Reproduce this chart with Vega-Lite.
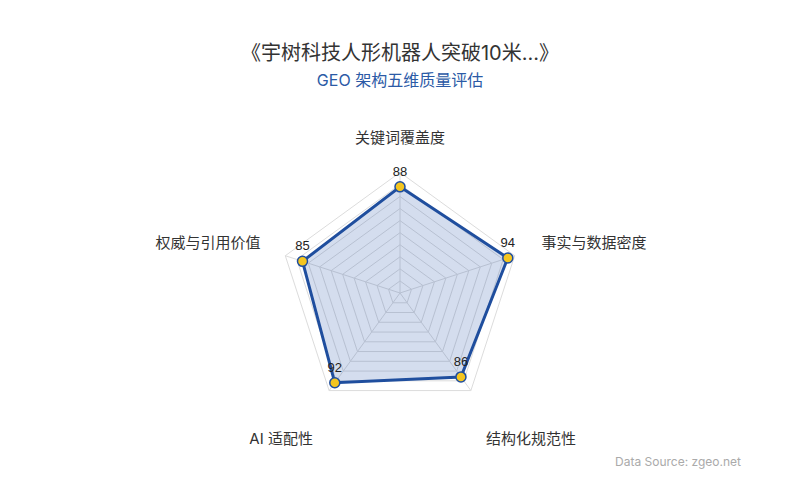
{
  "$schema": "https://vega.github.io/schema/vega-lite/v6.json",
  "width": 800,
  "height": 390,
  "autosize": {"type": "none"},
  "padding": {"top": 110, "left": 0, "right": 0, "bottom": 0},
  "background": "white",
  "title": {
    "text": "《宇树科技人形机器人突破10米...》",
    "subtitle": "GEO 架构五维质量评估",
    "anchor": "middle",
    "font": "Inter, Noto Sans CJK SC",
    "fontSize": 20,
    "fontWeight": "normal",
    "color": "#333333",
    "subtitleFont": "Inter, Noto Sans CJK SC",
    "subtitleFontSize": 16,
    "subtitleColor": "#2b5aa6",
    "subtitlePadding": 9,
    "offset": 21
  },
  "datasets": {
    "scores": [
      {"i": 0, "dim": "关键词覆盖度", "score": 88},
      {"i": 1, "dim": "事实与数据密度", "score": 94},
      {"i": 2, "dim": "结构化规范性", "score": 86},
      {"i": 3, "dim": "AI 适配性", "score": 92},
      {"i": 4, "dim": "权威与引用价值", "score": 85}
    ],
    "rings": [
      {"level": 10, "i": [0, 1, 2, 3, 4]},
      {"level": 20, "i": [0, 1, 2, 3, 4]},
      {"level": 30, "i": [0, 1, 2, 3, 4]},
      {"level": 40, "i": [0, 1, 2, 3, 4]},
      {"level": 50, "i": [0, 1, 2, 3, 4]},
      {"level": 60, "i": [0, 1, 2, 3, 4]},
      {"level": 70, "i": [0, 1, 2, 3, 4]},
      {"level": 80, "i": [0, 1, 2, 3, 4]},
      {"level": 90, "i": [0, 1, 2, 3, 4]},
      {"level": 100, "i": [0, 1, 2, 3, 4]}
    ],
    "spokes": [
      {"i": 0, "level": [0, 100]},
      {"i": 1, "level": [0, 100]},
      {"i": 2, "level": [0, 100]},
      {"i": 3, "level": [0, 100]},
      {"i": 4, "level": [0, 100]}
    ],
    "notes": [
      {"note": "Data Source: zgeo.net"}
    ]
  },
  "encoding": {
    "x": {"field": "x", "type": "quantitative", "axis": null, "scale": {"domain": [-331.7, 331.7], "nice": false, "zero": false}},
    "y": {"field": "y", "type": "quantitative", "axis": null, "scale": {"domain": [-171.6, 151.7], "nice": false, "zero": false}}
  },
  "layer": [
    {
      "data": {"name": "rings"},
      "transform": [
        {"flatten": ["i"]},
        {"calculate": "datum.level * sin(2 * PI * datum.i / 5)", "as": "x"},
        {"calculate": "datum.level * cos(2 * PI * datum.i / 5)", "as": "y"}
      ],
      "mark": {"type": "line", "interpolate": "linear-closed", "stroke": "#dcdcdc", "strokeWidth": 1},
      "encoding": {"detail": {"field": "level"}, "order": {"field": "i"}}
    },
    {
      "data": {"name": "spokes"},
      "transform": [
        {"flatten": ["level"]},
        {"calculate": "datum.level * sin(2 * PI * datum.i / 5)", "as": "x"},
        {"calculate": "datum.level * cos(2 * PI * datum.i / 5)", "as": "y"}
      ],
      "mark": {"type": "line", "stroke": "#dcdcdc", "strokeWidth": 1},
      "encoding": {"detail": {"field": "i"}, "order": {"field": "level"}}
    },
    {
      "data": {"name": "scores"},
      "transform": [
        {"calculate": "datum.score * sin(2 * PI * datum.i / 5)", "as": "x"},
        {"calculate": "datum.score * cos(2 * PI * datum.i / 5)", "as": "y"}
      ],
      "layer": [
        {
          "mark": {"type": "line", "interpolate": "linear-closed", "fill": "#2a56a8", "fillOpacity": 0.2, "stroke": "#1f4e9e", "strokeWidth": 3},
          "encoding": {"order": {"field": "i"}}
        },
        {
          "mark": {"type": "circle", "size": 100, "fill": "#f4c51f", "opacity": 1, "stroke": "#1f4e9e", "strokeWidth": 1.5}
        },
        {
          "mark": {"type": "text", "dy": -15, "fontSize": 13, "font": "Liberation Sans", "color": "#222222"},
          "encoding": {"text": {"field": "score"}}
        }
      ]
    },
    {
      "data": {"name": "scores"},
      "transform": [
        {"calculate": "128.5 * sin(2 * PI * datum.i / 5)", "as": "x"},
        {"calculate": "128.5 * cos(2 * PI * datum.i / 5)", "as": "y"}
      ],
      "layer": [
        {
          "transform": [{"filter": "datum.i == 0"}],
          "mark": {"type": "text", "align": "center", "baseline": "middle", "fontSize": 15, "font": "Inter, Noto Sans CJK SC", "color": "#333333"},
          "encoding": {"text": {"field": "dim"}}
        },
        {
          "transform": [{"filter": "datum.i == 1"}],
          "mark": {"type": "text", "align": "left", "baseline": "middle", "dx": -6, "dy": -2, "fontSize": 15, "font": "Inter, Noto Sans CJK SC", "color": "#333333"},
          "encoding": {"text": {"field": "dim"}}
        },
        {
          "transform": [{"filter": "datum.i == 4"}],
          "mark": {"type": "text", "align": "right", "baseline": "middle", "dx": 8, "dy": -2, "fontSize": 15, "font": "Inter, Noto Sans CJK SC", "color": "#333333"},
          "encoding": {"text": {"field": "dim"}}
        },
        {
          "transform": [{"filter": "datum.i == 2"}],
          "mark": {"type": "text", "align": "left", "baseline": "middle", "dx": -5, "dy": 21, "fontSize": 15, "font": "Inter, Noto Sans CJK SC", "color": "#333333"},
          "encoding": {"text": {"field": "dim"}}
        },
        {
          "transform": [{"filter": "datum.i == 3"}],
          "mark": {"type": "text", "align": "right", "baseline": "middle", "dx": 4, "dy": 21, "fontSize": 15, "font": "Inter, Noto Sans CJK SC", "color": "#333333"},
          "encoding": {"text": {"field": "dim"}}
        }
      ]
    },
    {
      "data": {"name": "notes"},
      "transform": [
        {"calculate": "282.8", "as": "x"},
        {"calculate": "-140.1", "as": "y"}
      ],
      "mark": {"type": "text", "align": "right", "baseline": "middle", "fontSize": 12, "font": "Inter", "color": "#aaaaaa"},
      "encoding": {"text": {"field": "note"}}
    }
  ],
  "config": {"view": {"stroke": null}}
}
